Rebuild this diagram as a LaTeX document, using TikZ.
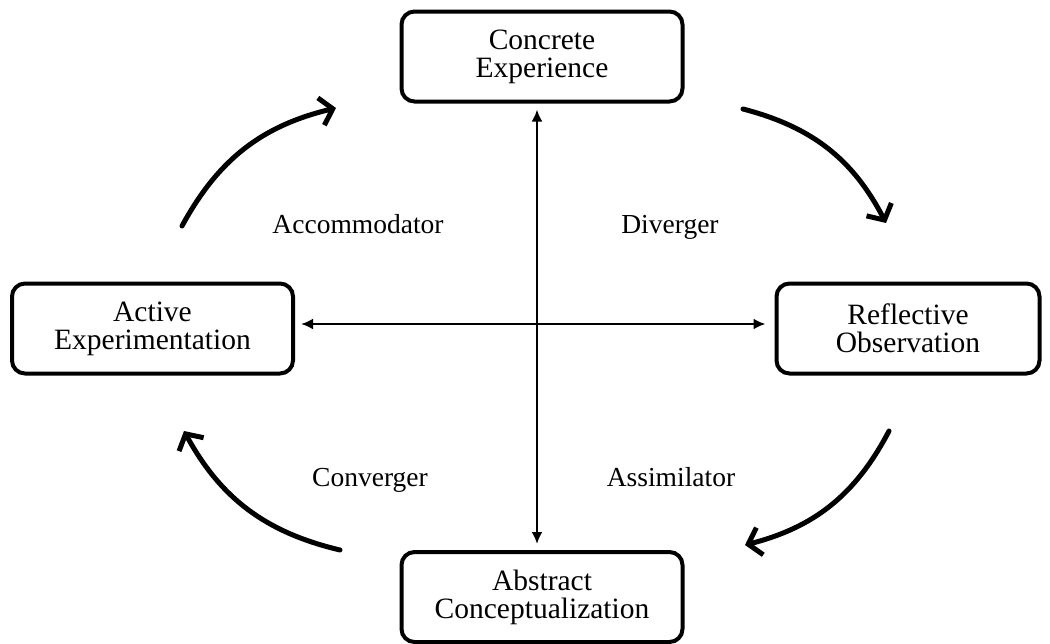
\documentclass[tikz,border=0pt]{standalone}
\usepackage{fontspec}
\setmainfont{Liberation Serif}
\usetikzlibrary{arrows.meta}
\tikzset{
  stagebox/.style={draw=black, line width=4pt, rounded corners=13pt, fill=white,
    align=center, inner sep=0pt, minimum width=281pt, minimum height=90pt,
    font=\fontsize{29.5}{28}\selectfont},
  lbl/.style={font=\fontsize{27.5}{30}\selectfont, inner sep=0pt, anchor=base},
  axis/.style={line width=2.4pt, {Latex[length=12pt,width=11pt]}-{Latex[length=12pt,width=11pt]}},
  cyc/.style={line width=5pt, line cap=round, -{Straight Barb[length=12pt,width=28pt,line width=5pt]}}
}
\begin{document}
\begin{tikzpicture}[x=1pt,y=-1pt]
\useasboundingbox (0,0) rectangle (1050,643);
\node[stagebox] (ce) at (542,56.5) {Concrete\\Experience};
\node[stagebox, minimum width=263pt] (ro) at (908,328.5) {Reflective\\Observation};
\node[stagebox] (ac) at (542,597) {Abstract\\Conceptualization};
\node[stagebox] (ae) at (152.5,328.5) {Active\\Experimentation};
\draw[axis, shorten <=6pt, shorten >=6pt] ([xshift=-5pt]ce.south) -- ([xshift=-5pt]ac.north);
\draw[axis, shorten <=6pt, shorten >=9pt] ([yshift=4.5pt]ae.east) -- ([yshift=4.5pt]ro.west);
\node[lbl] (l1) at (358,233) {Accommodator};
\node[lbl] (l2) at (670,233) {Diverger};
\node[lbl] (l3) at (370,486) {Converger};
\node[lbl] (l4) at (671,486) {Assimilator};
\coordinate (a1) at (182,226); \coordinate (b1) at (336,108);
\coordinate (a2) at (743,109); \coordinate (b2) at (886,223);
\coordinate (a3) at (889,431); \coordinate (b3) at (745,545);
\coordinate (a4) at (340,550); \coordinate (b4) at (184,431);
\draw[cyc] (a1) to[bend left=24] (b1);
\draw[cyc] (a2) to[bend left=24] (b2);
\draw[cyc] (a3) to[bend left=24] (b3);
\draw[cyc] (a4) to[bend left=24] (b4);
\end{tikzpicture}
\end{document}
